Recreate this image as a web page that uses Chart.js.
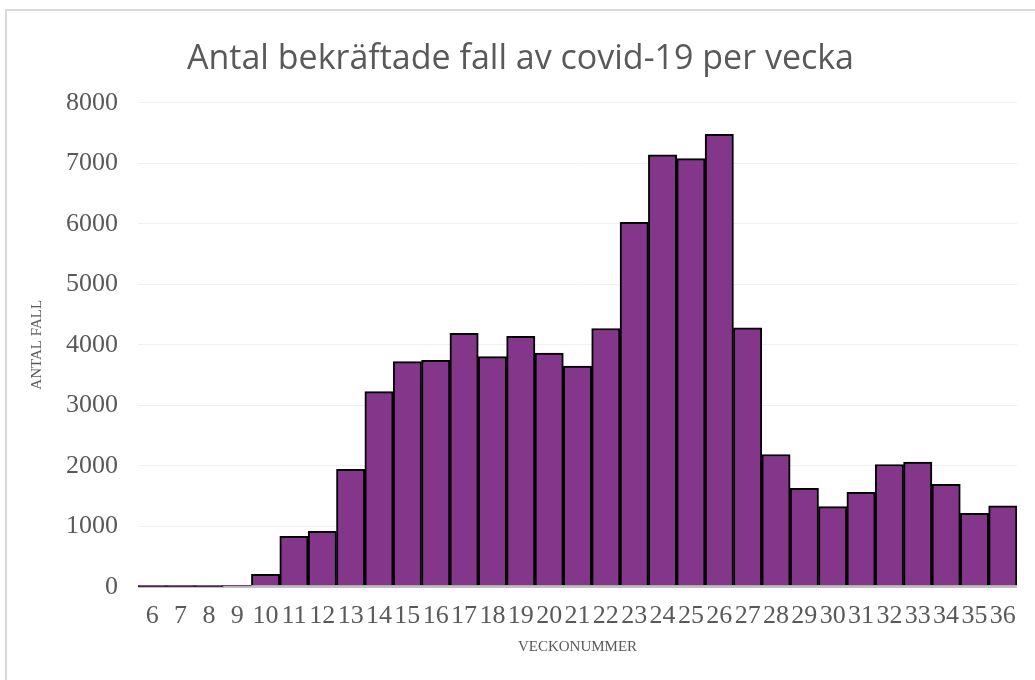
<!DOCTYPE html>
<html>
<head>
<meta charset="utf-8">
<script src="https://cdn.jsdelivr.net/npm/chart.js@4/dist/chart.umd.min.js"></script>
<style>
    body { margin: 0; background: #fff; }
    #ram { position: absolute; left: 5px; top: 9px; width: 1100px; height: 720px; border: 2px solid #d9d9d9; }
    #wrap { position: absolute; left: 0; top: 0; width: 1035px; height: 680px; }
</style>
</head>
<body>
<div id="ram"></div>
<div id="wrap"><canvas id="diagram"></canvas></div>
<script>
const veckor = ['6','7','8','9','10','11','12','13','14','15','16','17','18','19','20','21',
    '22','23','24','25','26','27','28','29','30','31','32','33','34','35','36'];
const fall = [1, 1, 2, 14, 205, 836, 918, 1943, 3227, 3721, 3743, 4191, 3804, 4141, 3865, 3649,
    4269, 6025, 7138, 7076, 7480, 4280, 2187, 1628, 1324, 1561, 2021, 2060, 1694, 1213, 1340];
const yMin = 0, yMax = 8000, ySteg = 1000;

const grått = '#595959';

window.addEventListener("load", function () {
    const ctx = document.getElementById('diagram').getContext('2d');
    new Chart(ctx, {
        type: 'bar',
        data: {
            labels: veckor,
            datasets: [{
                label: 'Antal fall',
                data: fall,
                backgroundColor: '#84368a',
                borderColor: '#000000',
                borderWidth: 2,
                categoryPercentage: 1.0,
                barPercentage: 1.0
            }]
        },
        options: {
            responsive: true,
            maintainAspectRatio: false,
            animation: false,
            layout: { padding: { left: 24, right: 18, top: 10, bottom: 20 } },
            plugins: {
                legend: { display: false },
                tooltip: { enabled: false },
                title: {
                    display: true,
                    text: 'Antal bekräftade fall av covid-19 per vecka',
                    color: grått,
                    font: { family: 'Open Sans', size: 34, weight: 'normal' },
                    padding: { top: 29, bottom: 23 }
                }
            },
            scales: {
                x: {
                    grid: { display: false },
                    border: { display: false },
                    ticks: {
                        color: grått,
                        font: { family: 'Liberation Serif', size: 26 },
                        maxRotation: 0,
                        autoSkip: false,
                        padding: 6
                    },
                    title: {
                        display: true,
                        text: 'VECKONUMMER',
                        color: grått,
                        font: { family: 'Liberation Serif', size: 15 },
                        padding: { top: 0, bottom: 4 }
                    }
                },
                y: {
                    min: yMin,
                    max: yMax,
                    border: { display: false },
                    grid: {
                        drawTicks: false,
                        color: c => c.tick.value === 0 ? '#bfbfbf' : '#efefef',
                        lineWidth: c => c.tick.value === 0 ? 3 : 1
                    },
                    ticks: {
                        stepSize: ySteg,
                        color: grått,
                        font: { family: 'Liberation Serif', size: 26 },
                        padding: 20,
                        callback: v => String(v)
                    },
                    title: {
                        display: true,
                        text: 'ANTAL FALL',
                        color: grått,
                        font: { family: 'Liberation Serif', size: 15 },
                        padding: { top: 4, bottom: 0 }
                    }
                }
            }
        }
    });
});
</script>
</body>
</html>
